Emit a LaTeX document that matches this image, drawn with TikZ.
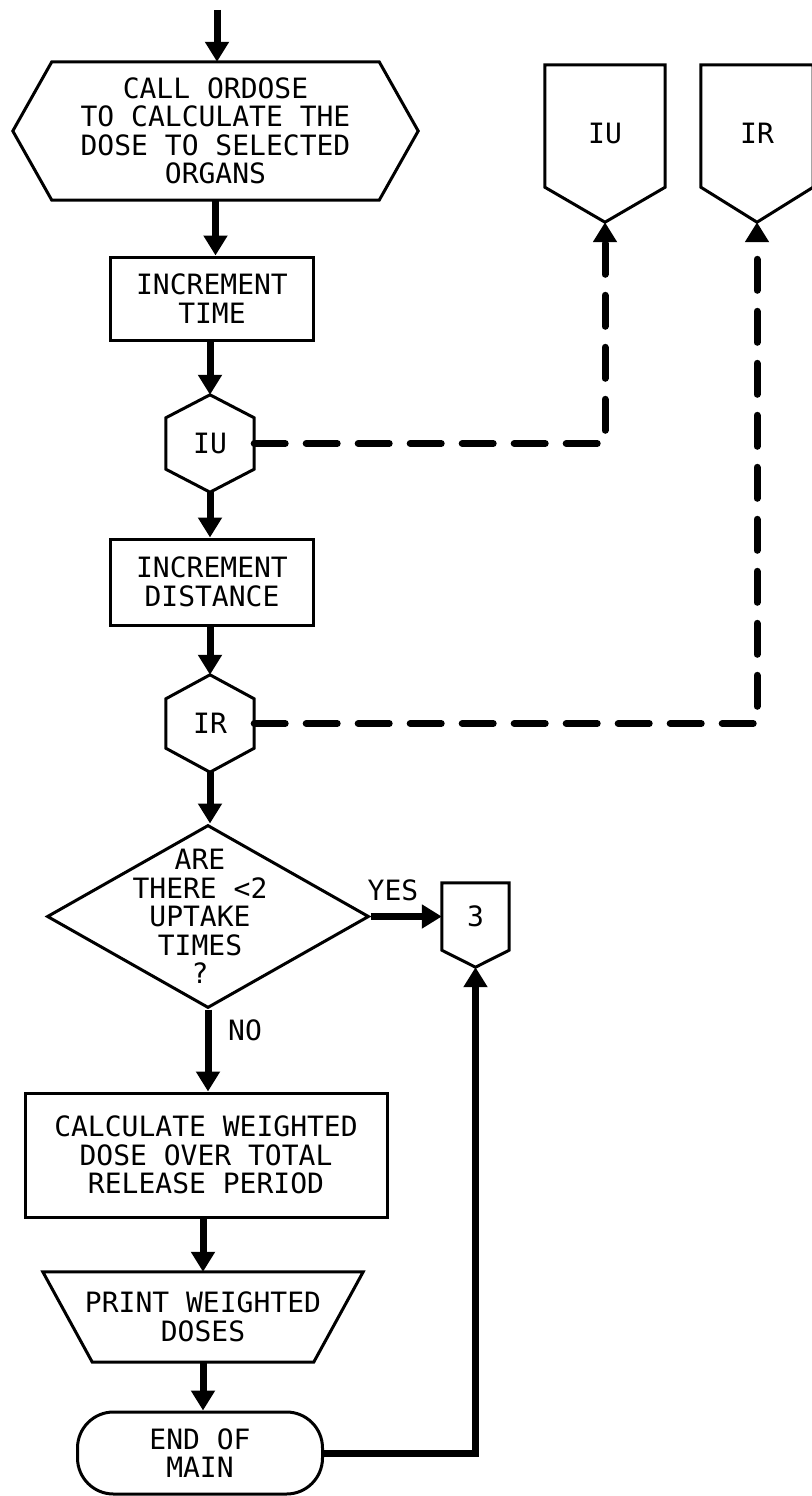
\documentclass[tikz,border=0pt]{standalone}
\usepackage{fontspec}
\newfontfamily\chartfont{DejaVu Sans Mono}
\usetikzlibrary{calc,shapes.geometric,arrows.meta}
\tikzset{
  frame/.style={inner sep=0pt, align=center},
  outline/.style={draw=black, line width=3pt},
  process/.style={frame, outline},
  terminal/.style={frame, outline, rounded corners=36pt},
  decision/.style={diamond, outline, inner sep=0pt},
  flow/.style={draw=black, line width=7pt, -{Triangle[length=20pt,width=23pt]}},
  link/.style={draw=black, line width=7pt, line cap=round, dash pattern=on 31pt off 21pt,
    -{Triangle[length=20pt,width=23pt]}}
 }
\newcommand{\hhex}[2]{\draw[outline] (#1.west) -- ($(#1.north west)+(#2,0)$) -- ($(#1.north east)+(-#2,0)$)
  -- (#1.east) -- ($(#1.south east)+(-#2,0)$) -- ($(#1.south west)+(#2,0)$) -- cycle;}
\newcommand{\vhex}[2]{\draw[outline] (#1.north) -- ($(#1.north east)+(0,#2)$) -- ($(#1.south east)+(0,-#2)$)
  -- (#1.south) -- ($(#1.south west)+(0,-#2)$) -- ($(#1.north west)+(0,#2)$) -- cycle;}
\newcommand{\offpage}[2]{\draw[outline] (#1.north west) -- (#1.north east) -- ($(#1.south east)+(0,-#2)$)
  -- (#1.south) -- ($(#1.south west)+(0,-#2)$) -- cycle;}
\newcommand{\manual}[2]{\draw[outline] (#1.north west) -- (#1.north east) -- ($(#1.south east)+(-#2,0)$)
  -- ($(#1.south west)+(#2,0)$) -- cycle;}
\begin{document}
\begin{tikzpicture}[x=1pt, y=-1pt, font=\chartfont\fontsize{28}{28.5}\selectfont]
    \useasboundingbox (0,0) rectangle (811,1496);
    \coordinate (entry) at (217,10);
    \node[frame, minimum width=405pt, minimum height=138pt] (ordose) at (215.5,131)
      {CALL ORDOSE\\TO CALCULATE THE\\DOSE TO SELECTED\\ORGANS};
    \hhex{ordose}{39}
    \node[process, minimum width=203pt, minimum height=83pt] (time) at (212,298.5) {INCREMENT\\TIME};
    \node[frame, minimum width=88pt, minimum height=97pt] (iu) at (210,443.5) {IU};
    \vhex{iu}{23}
    \node[process, minimum width=203pt, minimum height=86pt] (dist) at (212,582) {INCREMENT\\DISTANCE};
    \node[frame, minimum width=88pt, minimum height=97pt] (ir) at (210,723.5) {IR};
    \vhex{ir}{24}
    \node[decision, minimum width=322pt, minimum height=183pt,
      label={[align=center, xshift=-8pt]center:ARE\\THERE <2\\UPTAKE\\TIMES\\?}] (uptake) at (208,916.5) {};
    \node[frame, minimum width=67pt, minimum height=84pt, text depth=17pt] (three) at (475.5,925) {3};
    \offpage{three}{17}
    \node[frame, minimum width=120pt, minimum height=157pt, text depth=20pt] (offiu) at (605,143.5) {IU};
    \offpage{offiu}{35}
    \node[frame, minimum width=112pt, minimum height=157pt, text depth=20pt] (offir) at (757,143.5) {IR};
    \offpage{offir}{35}
    \node (yes) at (393,890) {YES};
    \node (no) at (245,1030) {NO};
    \node[process, minimum width=362pt, minimum height=124pt] (weighted) at (206,1155)
      {CALCULATE WEIGHTED\\DOSE OVER TOTAL\\RELEASE PERIOD};
    \node[frame, minimum width=320pt, minimum height=90pt] (print) at (203,1317) {PRINT WEIGHTED\\DOSES};
    \manual{print}{49.5}
    \node[terminal, minimum width=245pt, minimum height=82pt] (finish) at (200,1453) {END OF\\MAIN};
    \draw[flow] (entry) -- (entry |- ordose.north);
    \draw[flow] (ordose.south) -- (ordose.south |- time.north);
    \draw[flow] (iu.north |- time.south) -- (iu.north);
    \draw[flow] (iu.south) -- (iu.south |- dist.north);
    \draw[flow] (ir.north |- dist.south) -- (ir.north);
    \draw[flow] (ir.south) -- (ir.south |- uptake.north);
    \draw[flow] (uptake.east) -- (uptake.east -| three.west);
    \draw[flow] (uptake.south) -- (uptake.south |- weighted.north);
    \draw[flow] (weighted.south -| print.north) -- (print.north);
    \draw[flow] (print.south) -- (print.south |- finish.north);
    \draw[flow] (finish.east) -| (three.south);
    \draw[link] (iu.east) -| (offiu.south);
    \draw[link] (ir.east) -| (offir.south);
\end{tikzpicture}
\end{document}
